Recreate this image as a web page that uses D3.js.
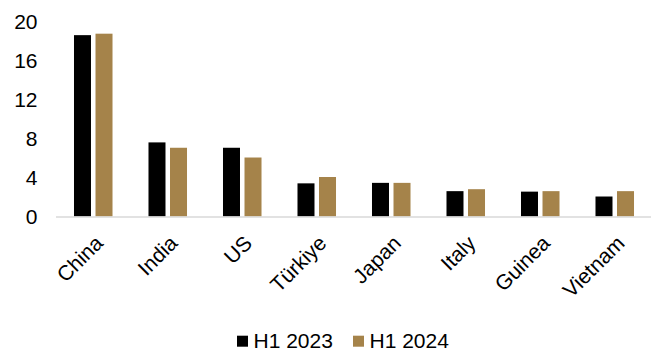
<!DOCTYPE html>
<html>
<head>
<meta charset="utf-8">
<script src="https://cdn.jsdelivr.net/npm/d3@7"></script>
<style>
  html, body { margin: 0; padding: 0; background: #fff; }
  svg { display: block; font-family: "Liberation Sans", Arial, sans-serif; }
</style>
</head>
<body>
<svg id="chart" width="656" height="354"></svg>
<script>
// Categories and series values
const countries = ["China", "India", "US", "Türkiye", "Japan", "Italy", "Guinea", "Vietnam"];
const seriesNames = ["H1 2023", "H1 2024"];
const h1_2023 = [18.6, 7.6, 7.05, 3.4, 3.45, 2.6, 2.55, 2.05];
const h1_2024 = [18.75, 7.05, 6.05, 4.05, 3.45, 2.8, 2.6, 2.6];
const yTicks = [0, 4, 8, 12, 16, 20];
const colors = ["#000000", "#A5834A"];

const rows = countries.map((c, i) => ({ country: c, values: [h1_2023[i], h1_2024[i]] }));

const svg = d3.select("#chart");
const fontSize = 21;

const x0 = d3.scaleBand().domain(countries).range([56, 652]).paddingInner(0.483).paddingOuter(0.2415);
const x1 = d3.scaleBand().domain(seriesNames).range([0, x0.bandwidth()]).paddingInner(0.21);
const y = d3.scaleLinear().domain([0, 20]).range([216.5, 21.5]);

// Bars
const groups = svg.append("g").selectAll("g")
  .data(rows).join("g")
  .attr("transform", d => `translate(${x0(d.country)},0)`);

groups.selectAll("rect")
  .data(d => d.values.map((v, i) => ({ key: seriesNames[i], value: v, i })))
  .join("rect")
  .attr("x", d => x1(d.key))
  .attr("y", d => y(d.value))
  .attr("width", x1.bandwidth())
  .attr("height", d => y(0) - y(d.value))
  .attr("fill", d => colors[d.i]);

// Y axis labels (no line, no tick marks)
const yAxis = svg.append("g")
  .attr("transform", "translate(37.5,0)")
  .call(d3.axisLeft(y).tickValues(yTicks).tickSize(0).tickPadding(0));
yAxis.select(".domain").remove();
yAxis.selectAll("text")
  .attr("font-size", fontSize)
  .attr("font-family", "Liberation Sans, Arial, sans-serif")
  .attr("fill", "#000");

// Baseline
svg.append("line")
  .attr("x1", 56).attr("x2", 651)
  .attr("y1", y(0) + 0.5).attr("y2", y(0) + 0.5)
  .attr("stroke", "#d9d9d9").attr("stroke-width", 1.5);

// Rotated category labels
svg.append("g").selectAll("text")
  .data(countries).join("text")
  .attr("transform", d => `translate(${x0(d) + x0.bandwidth() / 2 + 0.5},234) rotate(-45)`)
  .attr("text-anchor", "end")
  .attr("dy", "0.71em")
  .attr("font-size", fontSize)
  .attr("fill", "#000")
  .text(d => d);

// Legend
const legend = svg.append("g");
const legendX = [237, 353];
seriesNames.forEach((name, i) => {
  legend.append("rect")
    .attr("x", legendX[i]).attr("y", 335.7)
    .attr("width", 11).attr("height", 11)
    .attr("fill", colors[i]);
  legend.append("text")
    .attr("x", legendX[i] + 16.5).attr("y", 348.3)
    .attr("font-size", fontSize)
    .attr("fill", "#000")
    .text(name);
});
</script>
</body>
</html>
